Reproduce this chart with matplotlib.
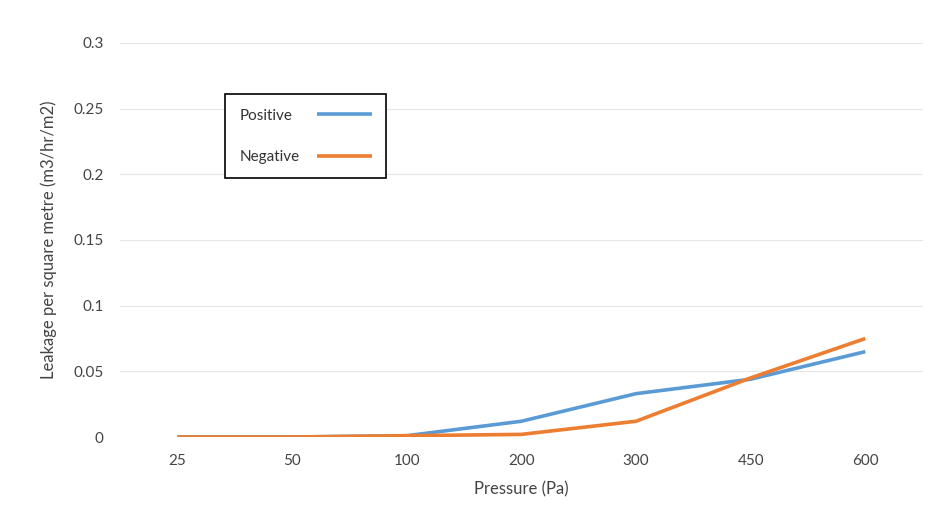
import matplotlib
matplotlib.use('Agg')
import matplotlib.pyplot as plt

# data
pressures = ['25', '50', '100', '200', '300', '450', '600']
positive = [0.0, 0.0, 0.001, 0.012, 0.033, 0.044, 0.065]
negative = [0.0, 0.0, 0.001, 0.002, 0.012, 0.045, 0.075]
yticks = [0, 0.05, 0.1, 0.15, 0.2, 0.25, 0.3]
ytick_labels = ['0', '0.05', '0.1', '0.15', '0.2', '0.25', '0.3']

plt.rcParams['font.family'] = ['Lato', 'DejaVu Sans']

fig = plt.figure(figsize=(9.31, 5.24), dpi=100)
ax = fig.add_axes([0.129, 0.166, 0.862, 0.752])

x = range(len(pressures))
ax.plot(x, positive, color='#5B9BD5', lw=2.6, label='Positive', solid_capstyle='butt')
ax.plot(x, negative, color='#ED7D31', lw=2.6, label='Negative', solid_capstyle='butt')

ax.set_xlim(-0.5, len(pressures) - 0.5)
ax.set_ylim(0, 0.3)
ax.set_xticks(list(x))
ax.set_xticklabels(pressures)
ax.set_yticks(yticks)
ax.set_yticklabels(ytick_labels)
ax.tick_params(length=0, labelsize=11, colors='#444444', pad=12)
ax.tick_params(axis='x', pad=12)
ax.grid(axis='y', color='#e6e6e6', lw=0.8)
ax.set_axisbelow(True)
for s in ax.spines.values():
    s.set_visible(False)

ax.set_xlabel('Pressure (Pa)', fontsize=12, color='#444444', labelpad=10)
ax.set_ylabel('Leakage per square metre (m3/hr/m2)', fontsize=12, color='#444444', labelpad=12)

leg = ax.legend(loc='upper left', bbox_to_anchor=(0.131, 0.87), markerfirst=False,
                fancybox=False, edgecolor='black', framealpha=1, fontsize=11,
                handlelength=3.6, labelspacing=1.78, borderpad=0.95, borderaxespad=0,
                handletextpad=1.1)
leg.get_frame().set_linewidth(1.2)
for t in leg.get_texts():
    t.set_color('#333333')

# left-align the labels, keep the handles lined up on the right
fig.canvas.draw()
r = fig.canvas.get_renderer()
texts = leg.get_texts()
widths = [t.get_window_extent(r).width for t in texts]
col = leg._legend_handle_box.get_children()[0]
col.align = 'left'
for row, w in zip(col.get_children(), widths):
    row.sep += (max(widths) - w) * 72 / fig.dpi

fig.savefig('out.png', dpi=100, facecolor='white')
